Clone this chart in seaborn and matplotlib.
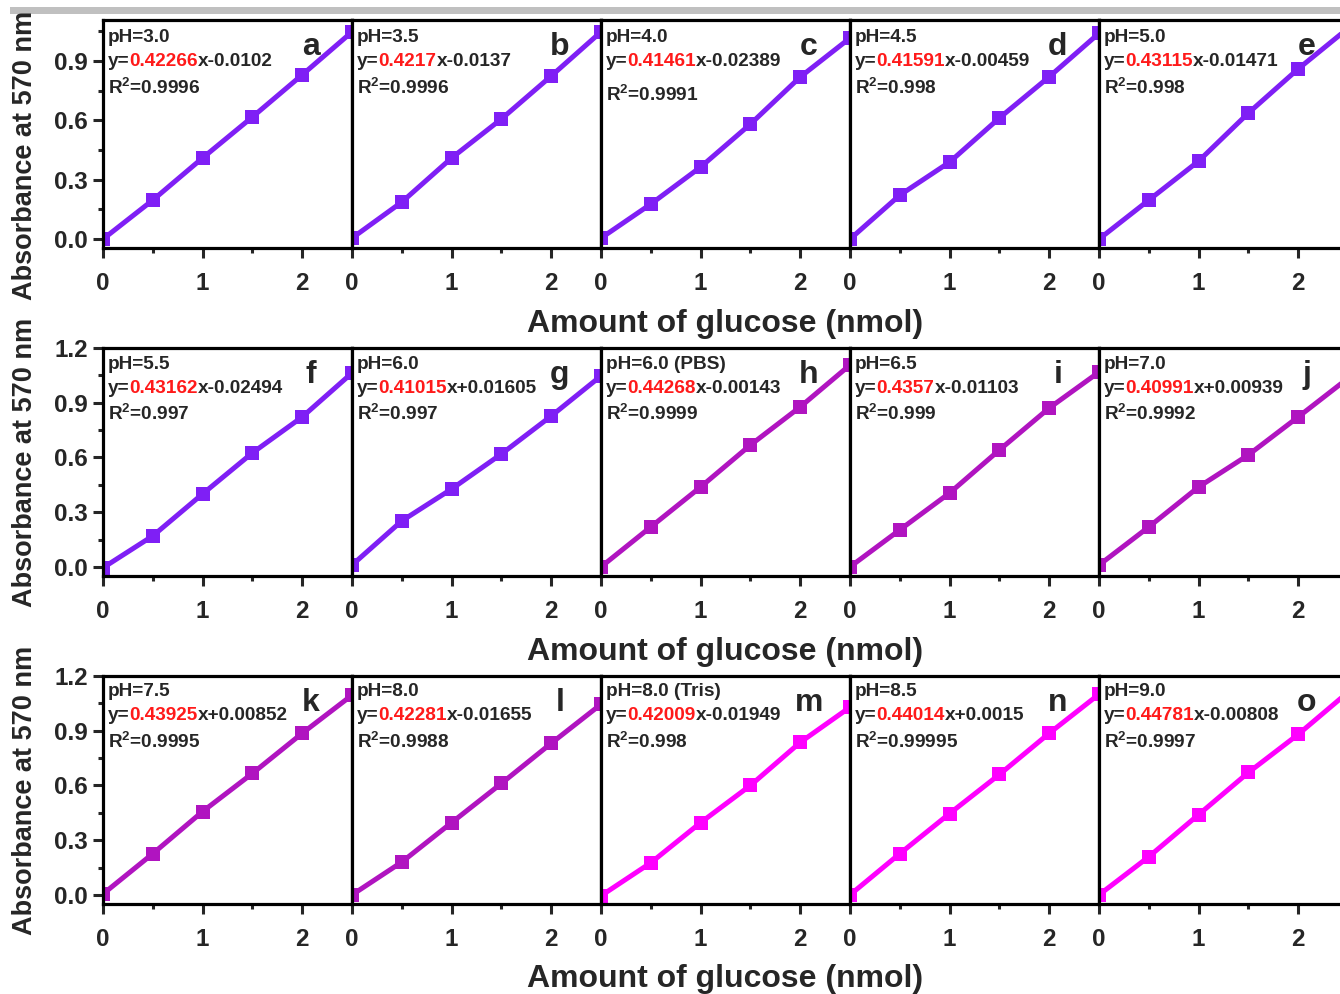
import matplotlib
matplotlib.use('Agg')
import matplotlib.pyplot as plt
from matplotlib.patches import Rectangle
from matplotlib.ticker import FixedLocator, FormatStrFormatter
import seaborn as sns

# amount of glucose (nmol), same for every panel
glucose = [0, 0.5, 1, 1.5, 2, 2.5]

tags = list('abcdefghijklmno')
ph_labels = ['pH=3.0', 'pH=3.5', 'pH=4.0', 'pH=4.5', 'pH=5.0',
             'pH=5.5', 'pH=6.0', 'pH=6.0 (PBS)', 'pH=6.5', 'pH=7.0',
             'pH=7.5', 'pH=8.0', 'pH=8.0 (Tris)', 'pH=8.5', 'pH=9.0']
slopes = ['0.42266', '0.4217', '0.41461', '0.41591', '0.43115',
          '0.43162', '0.41015', '0.44268', '0.4357', '0.40991',
          '0.43925', '0.42281', '0.42009', '0.44014', '0.44781']
intercepts = ['x-0.0102', 'x-0.0137', 'x-0.02389', 'x-0.00459', 'x-0.01471',
              'x-0.02494', 'x+0.01605', 'x-0.00143', 'x-0.01103', 'x+0.00939',
              'x+0.00852', 'x-0.01655', 'x-0.01949', 'x+0.0015', 'x-0.00808']
r_squared = ['0.9996', '0.9996', '0.9991', '0.998', '0.998',
             '0.997', '0.997', '0.9999', '0.999', '0.9992',
             '0.9995', '0.9988', '0.998', '0.99995', '0.9997']

# absorbance at 570 nm
abs_a = [0.0, 0.197, 0.41, 0.617, 0.83, 1.047]
abs_b = [0.005, 0.187, 0.41, 0.607, 0.824, 1.047]
abs_c = [0.005, 0.177, 0.364, 0.581, 0.819, 1.016]
abs_d = [0.0, 0.222, 0.389, 0.612, 0.82, 1.04]
abs_e = [0.0, 0.197, 0.394, 0.637, 0.86, 1.065]
abs_f = [-0.005, 0.17, 0.40, 0.625, 0.822, 1.063]
abs_g = [0.01, 0.252, 0.427, 0.619, 0.827, 1.047]
abs_h = [0.0, 0.219, 0.438, 0.668, 0.877, 1.107]
abs_i = [0.0, 0.203, 0.405, 0.641, 0.871, 1.068]
abs_j = [0.01, 0.219, 0.438, 0.614, 0.822, 1.034]
abs_k = [0.005, 0.226, 0.457, 0.666, 0.886, 1.095]
abs_l = [0.0, 0.18, 0.396, 0.611, 0.831, 1.045]
abs_m = [-0.005, 0.176, 0.396, 0.60, 0.836, 1.029]
abs_n = [0.0, 0.226, 0.446, 0.66, 0.886, 1.10]
abs_o = [0.0, 0.209, 0.44, 0.671, 0.88, 1.111]
absorbance = [abs_a, abs_b, abs_c, abs_d, abs_e, abs_f, abs_g, abs_h,
              abs_i, abs_j, abs_k, abs_l, abs_m, abs_n, abs_o]

colors = ['#7F1FF5'] * 7 + ['#B014C0'] * 5 + ['#FF00FF'] * 3

sns.set_style('ticks')
plt.rcParams['font.family'] = ['Liberation Sans', 'DejaVu Sans']
plt.rcParams['font.weight'] = 'bold'
plt.rcParams['mathtext.fontset'] = 'custom'
plt.rcParams['mathtext.rm'] = 'Liberation Sans:bold'
plt.rcParams['mathtext.bf'] = 'Liberation Sans:bold'

W, H = 1340, 994
fig = plt.figure(figsize=(W / 100, H / 100), dpi=100)

col_left = [103, 352, 601, 850, 1099]
row_top = [20, 348, 676]
pw, ph = 249, 228
ylims = [(-0.045, 1.107), (-0.05, 1.2), (-0.05, 1.2)]
yticks = [[0, 0.3, 0.6, 0.9], [0, 0.3, 0.6, 0.9, 1.2], [0, 0.3, 0.6, 0.9, 1.2]]
label_rows = [155, 462, 790]
xlabel_y = [324, 652, 979]

fs_note = 13.7
for i, tag in enumerate(tags):
    r, c = divmod(i, 5)
    ax = fig.add_axes([col_left[c] / W, 1 - (row_top[r] + ph) / H, pw / W, ph / H])
    sns.lineplot(x=glucose, y=absorbance[i], ax=ax, color=colors[i], marker='s',
                 markersize=9.8, markeredgewidth=0, linewidth=3.6)
    ax.set_xlim(0, 2.5)
    ax.set_ylim(*ylims[r])
    for s in ax.spines.values():
        s.set_linewidth(2.3)
        s.set_color('black')
    ax.xaxis.set_major_locator(FixedLocator([0, 1, 2]))
    ax.xaxis.set_minor_locator(FixedLocator([0.5, 1.5]))
    ax.tick_params(axis='x', which='major', direction='out', length=7, width=2.2,
                   labelsize=17.5, pad=10)
    ax.tick_params(axis='x', which='minor', direction='out', length=3.5, width=2.2)
    if c == 0:
        ax.yaxis.set_major_locator(FixedLocator(yticks[r]))
        ax.yaxis.set_minor_locator(FixedLocator([t + 0.15 for t in yticks[r]]))
        ax.yaxis.set_major_formatter(FormatStrFormatter('%.1f'))
        ax.tick_params(axis='y', which='major', direction='out', length=7, width=2.2,
                       labelsize=17.5, pad=4)
        ax.tick_params(axis='y', which='minor', direction='out', length=3.5, width=2.2)
    else:
        ax.set_yticks([])
    for lab in ax.get_xticklabels() + ax.get_yticklabels():
        lab.set_fontweight('bold')
    ax.set_xlabel('')
    ax.set_ylabel('')

    off = 3 if r == 0 else 1
    y1 = 1 - (15 + off) / ph
    y2 = 1 - (39 + off) / ph
    y3 = 1 - (65 + off + (7 if tag == 'c' else 0)) / ph
    ax.text(0.02, y1, ph_labels[i], transform=ax.transAxes, fontsize=fs_note,
            fontweight='bold', va='center', ha='left')
    t1 = ax.text(0.02, y2, 'y=', transform=ax.transAxes, fontsize=fs_note,
                 fontweight='bold', va='center', ha='left')
    t2 = ax.annotate(slopes[i], xy=(1, 0), xycoords=t1, fontsize=fs_note,
                     fontweight='bold', color='#FF1A1A', va='bottom', ha='left')
    ax.annotate(intercepts[i], xy=(1, 0), xycoords=t2, fontsize=fs_note,
                fontweight='bold', va='bottom', ha='left')
    ax.text(0.02, y3, r'R$^{2}$=' + r_squared[i], transform=ax.transAxes,
            fontsize=fs_note, fontweight='bold', va='center', ha='left')
    ax.text(0.835, 1 - 35 / ph, tag, transform=ax.transAxes, fontsize=23,
            fontweight='bold', va='baseline', ha='center')

for r in range(3):
    fig.text(25 / W, 1 - label_rows[r] / H, 'Absorbance at 570 nm', rotation=90,
             ha='center', va='center', fontsize=19.5, fontweight='bold')
    fig.text(725 / W, 1 - xlabel_y[r] / H, 'Amount of glucose (nmol)',
             ha='center', va='center', fontsize=23, fontweight='bold')

fig.add_artist(Rectangle((10 / W, 1 - 14 / H), 1, 7 / H, transform=fig.transFigure,
                         color='#C0C0C0', lw=0))

fig.savefig('out.png', dpi=100)
